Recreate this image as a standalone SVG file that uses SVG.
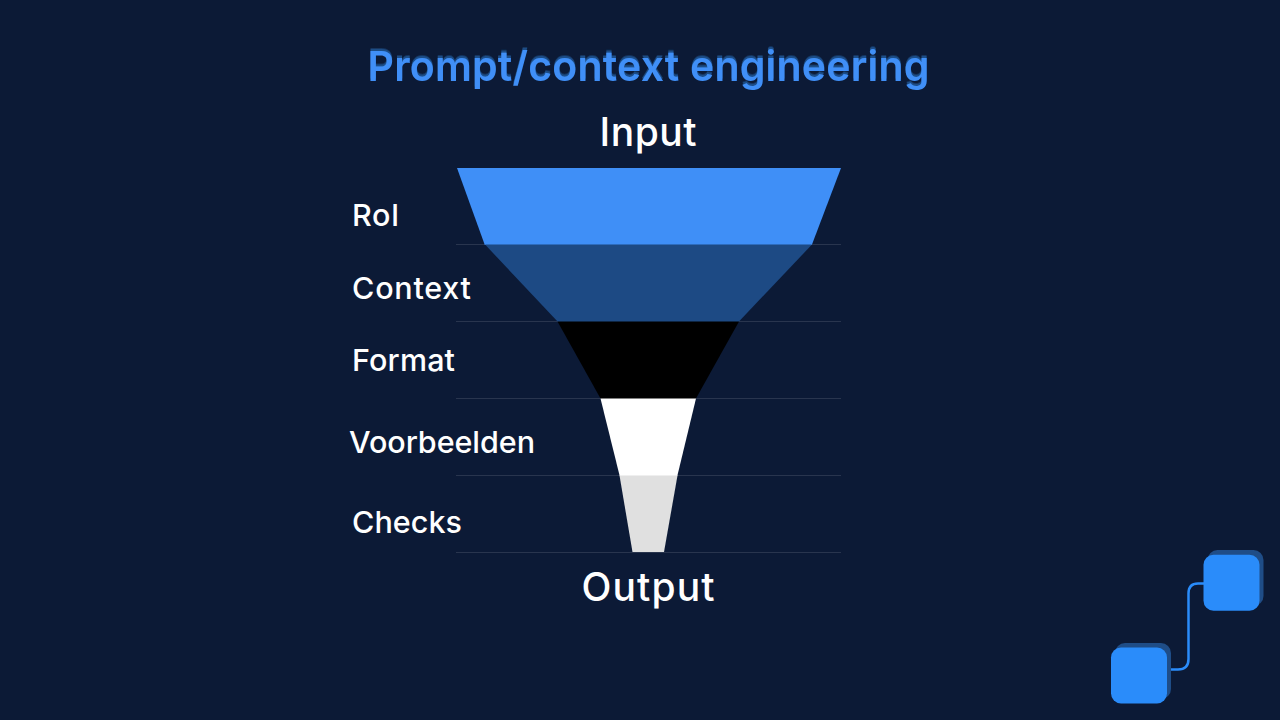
<svg xmlns="http://www.w3.org/2000/svg" width="1280" height="720" viewBox="0 0 1280 720">
<defs><filter id="echo" x="-5%" y="-30%" width="110%" height="160%"><feDropShadow dx="0" dy="-2.500" stdDeviation="0.200" flood-color="#1f4d87"/></filter></defs>
<style>
text{font-family:"Inter","Noto Sans","Liberation Sans",sans-serif;font-weight:500;fill:#fff}
.lab{font-size:30.500px}
.io{font-size:39px}
.title{font-size:41px;font-weight:600;fill:#3f8ff7}
.rule{stroke:#fff;stroke-opacity:.12;stroke-width:1;fill:none}
.back{fill:#1f4d87}
.front{fill:#2a8cfa}
</style>
<rect width="1280" height="720" fill="#0c1a36"/>
<text id="title" class="title" x="367.500" y="81" textLength="562" filter="url(#echo)">Prompt/context engineering</text>
<text class="io" x="599.500" y="145.500" textLength="97">Input</text>
<g id="connectors">
<path class="rule" d="M456 244.500H841M456 321.500H841M456 398.500H841M456 475.500H841M456 552.500H841"/>
<path d="M1166 669.500H1178Q1188.500 669.500 1188.500 659V593.500Q1188.500 583.500 1198 583.500H1204" fill="none" stroke="#2a8cfa" stroke-width="2.500"/>
</g>
<g id="layer-rol"><polygon points="457,168 841,168 811.800,245 484.800,245" fill="#3f8ff7"/><text class="lab" x="352" y="226" textLength="47">Rol</text></g>
<g id="layer-context"><polygon points="485,244.500 812,244.500 738.500,322 558,322" fill="#1d4a84"/><text class="lab" x="352" y="298.500" textLength="119">Context</text></g>
<g id="layer-format"><polygon points="557.500,321.500 739,321.500 695.700,399 600.800,399" fill="#000"/><text class="lab" x="352" y="370.500" textLength="103">Format</text></g>
<g id="layer-voorbeelden"><polygon points="600.500,398.500 696,398.500 677.300,476 619.700,476" fill="#fff"/><text class="lab" x="349" y="452.500" textLength="186">Voorbeelden</text></g>
<g id="layer-checks"><polygon points="619.500,475.500 677.500,475.500 664,552 632.500,552" fill="#e0e0e0"/><text class="lab" x="352" y="532.500" textLength="110">Checks</text></g>
<text class="io" x="581.500" y="600.500" textLength="133">Output</text>
<g id="block-a"><rect class="back" x="1115" y="643" width="56" height="56" rx="10"/><rect class="front" x="1111" y="647.500" width="56" height="56" rx="10"/></g>
<g id="block-b"><rect class="back" x="1207.500" y="550" width="56" height="56" rx="10"/><rect class="front" x="1203.500" y="554.800" width="56" height="56" rx="10"/></g>
</svg>
